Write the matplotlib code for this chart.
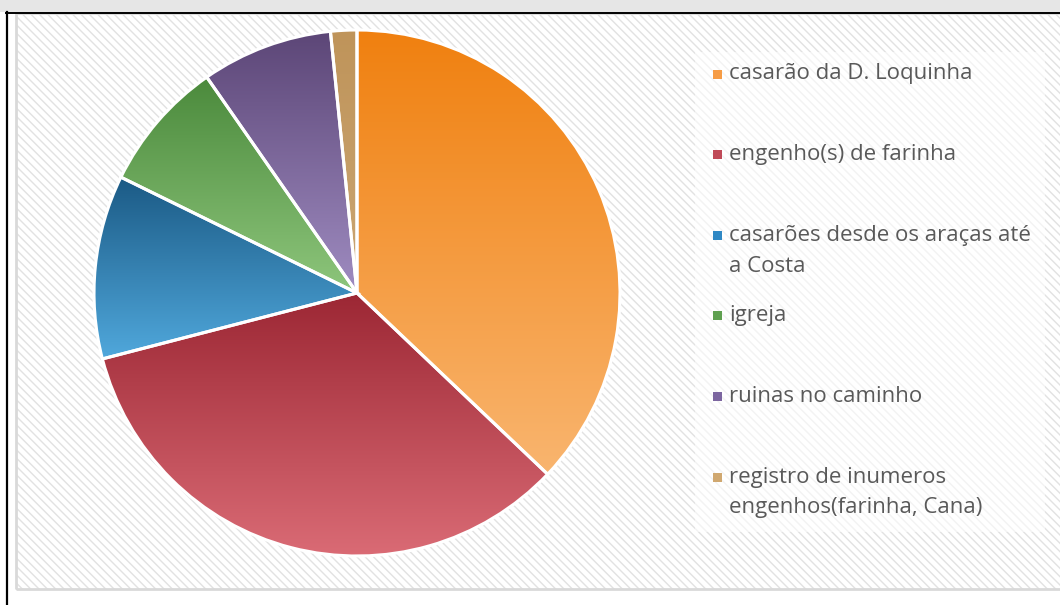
import numpy as np
import matplotlib.pyplot as plt
from matplotlib.patches import Rectangle
from matplotlib.lines import Line2D
from matplotlib.colors import LinearSegmentedColormap

plt.rcParams['font.family'] = ['Open Sans', 'DejaVu Sans']
plt.rcParams['hatch.linewidth'] = 1.0

# dados
labels = ["casarão da D. Loquinha",
          "engenho(s) de farinha",
          "casarões desde os araças até\na Costa",
          "igreja",
          "ruinas no caminho",
          "registro de inumeros\nengenhos(farinha, Cana)"]
values = [23, 21, 7, 5, 5, 1]

# cores (gradiente de cima para baixo em cada fatia)
top_colors = ["#f0800f", "#9c2734", "#1b5a85", "#4b8a3c", "#5c4677", "#bf945a"]
bottom_colors = ["#f9b56f", "#da6b75", "#50a8dc", "#8ec67c", "#9f8cc1", "#cba673"]
legend_colors = ["#f69c45", "#c04a58", "#2f88c4", "#5fa050", "#7c66a0", "#d0a870"]

W, H = 1060, 605
fig = plt.figure(figsize=(W / 100, H / 100), dpi=100)


def fx(px):
    return px / W


def fy(py):
    return 1 - py / H


# fundo / moldura
fig.add_artist(Rectangle((0, fy(12)), 1, 12 / H, transform=fig.transFigure,
                         facecolor="#e6e6e6", edgecolor="none", zorder=0))
fig.add_artist(Rectangle((fx(16), fy(589)), (W - 16) / W, (589 - 13) / H,
                         transform=fig.transFigure, facecolor="white",
                         edgecolor="#e2e2e2", linewidth=0, hatch="\\" * 4, zorder=0))
fig.add_artist(Rectangle((fx(16), fy(589)), (W - 14) / W, (589 - 13) / H,
                         transform=fig.transFigure, facecolor="none",
                         edgecolor="#d9d9d9", linewidth=2, zorder=0.5))
fig.add_artist(Line2D([fx(7), fx(7)], [0, fy(12)], transform=fig.transFigure,
                      color="black", linewidth=1.6, zorder=3))
fig.add_artist(Line2D([fx(6), 1], [fy(12.5), fy(12.5)], transform=fig.transFigure,
                      color="black", linewidth=1.4, zorder=3))
# caixa da legenda
fig.add_artist(Rectangle((fx(695), fy(532)), 350 / W, 480 / H,
                         transform=fig.transFigure, facecolor="white",
                         edgecolor="none", alpha=0.6, zorder=0.6))

# pizza
cx, cy, r = 357, 293, 263
ax = fig.add_axes([fx(cx - r), fy(cy + r), 2 * r / W, 2 * r / H])
wedges, _ = ax.pie(values, startangle=90, counterclock=False, radius=1,
                   wedgeprops=dict(edgecolor="white", linewidth=2.2))
for w, c0, c1 in zip(wedges, top_colors, bottom_colors):
    bb = w.get_path().get_extents()
    grad = np.linspace(0, 1, 256).reshape(-1, 1)
    cmap = LinearSegmentedColormap.from_list("", [c0, c1])
    im = ax.imshow(grad, cmap=cmap, extent=[bb.x0, bb.x1, bb.y0, bb.y1],
                   origin="upper", aspect="auto", zorder=1)
    im.set_clip_path(w)
    w.set_facecolor("none")
    w.set_zorder(2)
ax.set_xlim(-1, 1)
ax.set_ylim(-1, 1)
ax.axis("off")

# legenda
row0, step, line_h = 74, 80.6, 31
for i, (lab, col) in enumerate(zip(labels, legend_colors)):
    y = row0 + i * step
    fig.add_artist(Rectangle((fx(712.5), fy(y + 4.5)), 9 / W, 9 / H,
                             transform=fig.transFigure, facecolor=col,
                             edgecolor="none", zorder=2))
    for j, line in enumerate(lab.split("\n")):
        fig.text(fx(729), fy(y + j * line_h), line, fontsize=16,
                 color="#595959", va="center", ha="left")

fig.savefig("out.png", dpi=100)
